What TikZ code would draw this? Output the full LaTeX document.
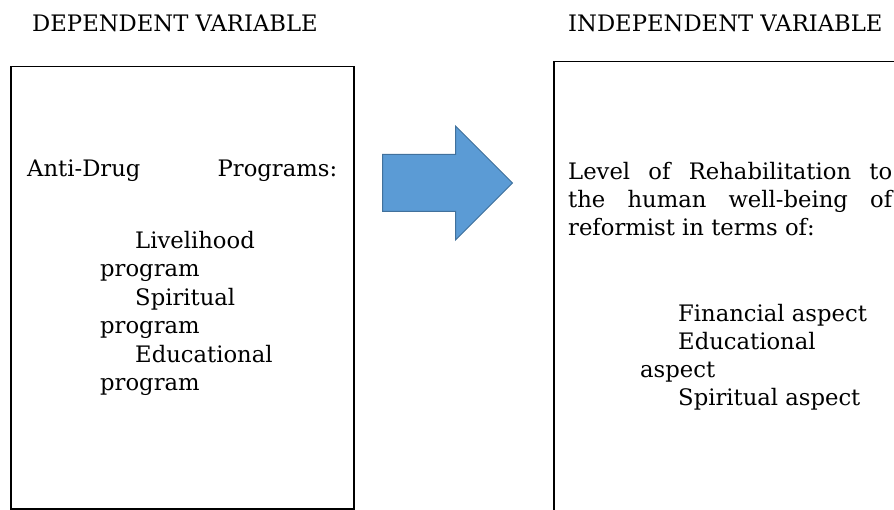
\documentclass[tikz,border=0pt]{standalone}
\usepackage{fontspec}
\setmainfont{DejaVu Serif}
\usepackage{tikz}
\usetikzlibrary{shapes.arrows}
\usetikzlibrary{positioning}
\definecolor{arrowblue}{HTML}{5B9BD5}
\definecolor{arrowedge}{HTML}{41719C}
\tikzset{varbox/.style = {draw, line width = 1.5pt, anchor = north west, inner sep = 0}}
\tikzset{txt/.style = {anchor = base west, inner sep = 0, align = left,
                       font = \fontsize{22.7}{28.5}\selectfont}}
\tikzset{bigarrow/.style = {single arrow, fill = arrowblue, draw = arrowedge, line width = 1pt,
                            single arrow tip angle = 90, single arrow head extend = 28.5pt,
                            single arrow head indent = 0, minimum height = 130pt,
                            inner xsep = 0, inner ysep = 28pt}}

\begin{document}
\begin{tikzpicture}[x = 1pt, y = 1pt]
    \useasboundingbox (0, 0) rectangle (894, -510);

    \node [txt] (deptitle) at (32, -32) {DEPENDENT VARIABLE};
    \node [txt] (indtitle) at (568, -32) {INDEPENDENT VARIABLE};

    \node [varbox, minimum width = 343pt, minimum height = 442pt] (depbox) at (10, -66) {};
    \node [varbox, minimum width = 380pt, minimum height = 480pt] (indbox) at (553, -61) {};

    \node [bigarrow, anchor = tail] (arrow) at (382, -183) {};

    \node [txt, text width = 310pt] (programs) at (27, -177) {Anti-Drug\hfill Programs:};
    \node [txt] (proglist) at (100, -391) {\hspace*{35pt}Livelihood\\ program\\
        \hspace*{35pt}Spiritual\\ program\\ \hspace*{35pt}Educational\\ program};

    \node [txt, text width = 324pt, align = justify,
           font = \fontsize{22.7}{27.7}\selectfont] (level) at (568, -180)
        {Level of Rehabilitation to\linebreak the human well-being of\linebreak reformist in terms of:};
    \node [txt, font = \fontsize{22.7}{27.7}\selectfont] (aspects) at (640, -405)
        {\hspace*{38pt}Financial aspect\\ \hspace*{38pt}Educational\\ aspect\\
        \hspace*{38pt}Spiritual aspect};
\end{tikzpicture}
\end{document}
